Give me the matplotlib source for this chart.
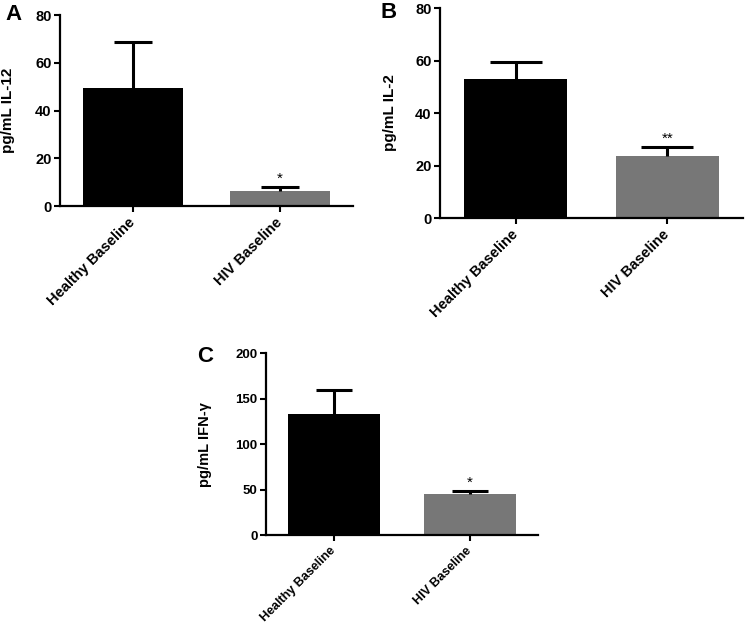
import matplotlib; matplotlib.use('Agg')
import matplotlib.pyplot as plt
from matplotlib import font_manager

# group names and values
groups = ['Healthy Baseline', 'HIV Baseline']
il12_mean = [49.5, 6.3]
il12_sem = [19.0, 1.7]
il2_mean = [52.8, 23.6]
il2_sem = [6.5, 3.3]
ifng_mean = [133.0, 45.5]
ifng_sem = [26.5, 2.7]
stars_a = ['', '*']
stars_b = ['', '**']
stars_c = ['', '*']

names = {f.name for f in font_manager.fontManager.ttflist}
narrow = 'Liberation Sans Narrow' if 'Liberation Sans Narrow' in names else 'Liberation Sans'
plt.rcParams['font.family'] = ['Liberation Sans', 'DejaVu Sans']
plt.rcParams['font.weight'] = 'bold'

bar_colors = ['#000000', '#777777']

def panel(ax, means, sems, stars, ylim, yticks, ylabel, capsize, tfs, xfs, lfs,
          tfamily, labx):
    x = range(len(groups))
    ax.bar(x, means, width=0.68, color=bar_colors, zorder=2)
    eb = ax.errorbar(x, means, yerr=[[0] * len(sems), sems], fmt='none', ecolor='black',
                     elinewidth=2.2, capsize=capsize, capthick=2.2, zorder=3)
    eb[1][0].set_visible(False)  # one-sided bars: hide the lower cap
    for xi, m, s, st in zip(x, means, sems, stars):
        if st:
            ax.annotate(st, (xi, m + s), xytext=(0, 1), textcoords='offset points',
                        ha='center', va='bottom', fontsize=11, fontweight='normal')
    ax.set_xlim(-0.5, 1.5)
    ax.set_ylim(*ylim)
    ax.set_yticks(yticks)
    ax.set_xticks(list(x))
    ax.set_xticklabels(groups, rotation=45, ha='right', va='center',
                       rotation_mode='anchor', fontsize=xfs, fontweight='bold')
    for lab in ax.get_yticklabels():
        lab.set_fontsize(tfs)
        lab.set_fontweight('bold')
        lab.set_family(tfamily)
    ax.set_ylabel(ylabel, fontsize=lfs, fontweight='bold', family=tfamily)
    ax.yaxis.set_label_coords(labx, 0.5)
    for s in ['top', 'right']:
        ax.spines[s].set_visible(False)
    for s in ['left', 'bottom']:
        ax.spines[s].set_linewidth(1.6)
    ax.tick_params(width=1.5, length=4, pad=2)
    ax.tick_params(axis='x', pad=6)

fig = plt.figure(figsize=(7.5, 6.31), dpi=100)
axA = fig.add_axes([0.080, 0.6735, 0.3907, 0.3027])
axB = fig.add_axes([0.5867, 0.6545, 0.404, 0.3328])
axC = fig.add_axes([0.3543, 0.1521, 0.363, 0.288])

panel(axA, il12_mean, il12_sem, stars_a, (0, 80), [0, 20, 40, 60, 80], 'pg/mL IL-12',
      13.5, 10.5, 10.5, 11, 'Liberation Sans', -0.154)
panel(axB, il2_mean, il2_sem, stars_b, (0, 80), [0, 20, 40, 60, 80], 'pg/mL IL-2',
      19, 10.5, 10.5, 11, 'Liberation Sans', -0.142)
panel(axC, ifng_mean, ifng_sem, stars_c, (0, 200), [0, 50, 100, 150, 200], 'pg/mL IFN-γ',
      13, 9.5, 9, 10.5, narrow, -0.197)

fig.text(13 / 750, 1 - 14 / 631, 'A', fontsize=16, fontweight='bold', ha='center', va='center')
fig.text(389 / 750, 1 - 12 / 631, 'B', fontsize=16, fontweight='bold', ha='center', va='center')
fig.text(205 / 750, 1 - 357 / 631, 'C', fontsize=16, fontweight='bold', ha='center', va='center')

fig.savefig('out.png', dpi=100)
